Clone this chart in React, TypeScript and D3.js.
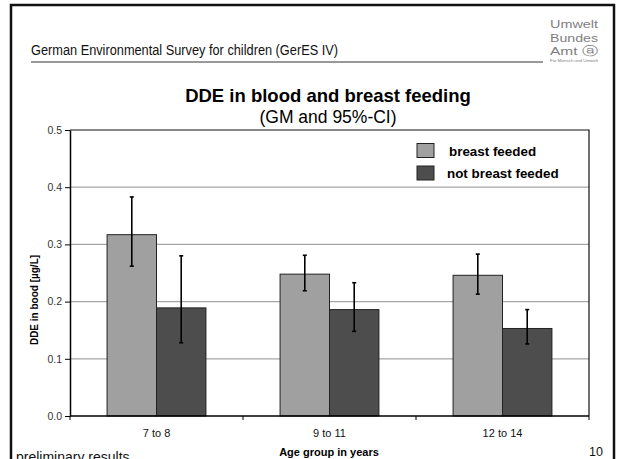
import React, { useEffect, useRef } from 'react';
import * as d3 from 'd3';

const categories = ['7 to 8', '9 to 11', '12 to 14'];
const seriesNames = ['breast feeded', 'not breast feeded'];
const breastFed = [0.317, 0.248, 0.246];
const breastFedLow = [0.262, 0.219, 0.213];
const breastFedHigh = [0.383, 0.281, 0.283];
const notBreastFed = [0.189, 0.186, 0.153];
const notBreastFedLow = [0.128, 0.148, 0.126];
const notBreastFedHigh = [0.28, 0.233, 0.186];
const yTicks = [0, 0.1, 0.2, 0.3, 0.4, 0.5];

const FONT = '"Liberation Sans", Arial, sans-serif';

export default function App() {
  const svgRef = useRef<SVGSVGElement>(null);

  useEffect(() => {
    if (!svgRef.current) return;
    const svg = d3.select(svgRef.current);
    svg.selectAll('*').remove();

    const width = 620;
    const height = 459;
    const plot = { left: 70, right: 589, top: 130, bottom: 416 };

    svg.append('rect').attr('width', width).attr('height', height).attr('fill', '#fff');

    // slide frame
    svg.append('rect')
      .attr('x', 11).attr('y', 5)
      .attr('width', 603).attr('height', 470)
      .attr('fill', 'none').attr('stroke', '#111').attr('stroke-width', 2.5);

    // header
    svg.append('text')
      .attr('x', 31).attr('y', 55)
      .attr('font-family', FONT).attr('font-size', 13.8).attr('fill', '#111')
      .attr('textLength', 307).attr('lengthAdjust', 'spacingAndGlyphs')
      .text('German Environmental Survey for children (GerES IV)');
    svg.append('line')
      .attr('x1', 31).attr('x2', 543).attr('y1', 62).attr('y2', 62)
      .attr('stroke', '#777').attr('stroke-width', 1.5);

    // logo
    const logo = svg.append('g').attr('font-family', FONT).attr('fill', '#808080');
    [['Umwelt', 28], ['Bundes', 41.5], ['Amt  \u24d0', 55]].forEach(([t, y]) => {
      logo.append('text').attr('x', 550).attr('y', y as number).attr('font-size', 11.5)
        .attr('textLength', 48).attr('lengthAdjust', 'spacingAndGlyphs')
        .text(t as string);
    });
    logo.append('text').attr('x', 550).attr('y', 61.5).attr('font-size', 3.5)
      .attr('textLength', 48).attr('lengthAdjust', 'spacingAndGlyphs')
      .text('Für Mensch und Umwelt');

    // titles
    svg.append('text')
      .attr('x', 328).attr('y', 102).attr('text-anchor', 'middle')
      .attr('font-family', FONT).attr('font-size', 18.5).attr('font-weight', 'bold')
      .text('DDE in blood and breast feeding');
    svg.append('text')
      .attr('x', 328).attr('y', 123).attr('text-anchor', 'middle')
      .attr('font-family', FONT).attr('font-size', 17.5)
      .text('(GM and 95%-CI)');

    const y = d3.scaleLinear().domain([0, 0.5]).range([plot.bottom, plot.top]);
    const x0 = d3.scaleBand<string>().domain(categories).range([plot.left, plot.right]);
    const x1 = d3.scaleBand<string>().domain(seriesNames).range([0, x0.bandwidth()])
      .paddingInner(0).paddingOuter(0.75);

    // gridlines
    svg.append('g').selectAll('line')
      .data(yTicks.filter(t => t > 0 && t < 0.5))
      .join('line')
      .attr('x1', plot.left).attr('x2', plot.right)
      .attr('y1', d => y(d)).attr('y2', d => y(d))
      .attr('stroke', '#a6a6a6').attr('stroke-width', 1.2);

    // plot border top + right
    svg.append('path')
      .attr('d', `M${plot.left},${plot.top}H${plot.right}V${plot.bottom}`)
      .attr('fill', 'none').attr('stroke', '#111').attr('stroke-width', 1.2);

    const series = [
      { name: seriesNames[0], vals: breastFed, lo: breastFedLow, hi: breastFedHigh, color: '#a0a0a0' },
      { name: seriesNames[1], vals: notBreastFed, lo: notBreastFedLow, hi: notBreastFedHigh, color: '#4d4d4d' },
    ];

    series.forEach(s => {
      const g = svg.append('g');
      g.selectAll('rect')
        .data(categories)
        .join('rect')
        .attr('x', c => x0(c)! + x1(s.name)!)
        .attr('y', (c, i) => y(s.vals[i]))
        .attr('width', x1.bandwidth())
        .attr('height', (c, i) => y(0) - y(s.vals[i]))
        .attr('fill', s.color)
        .attr('stroke', '#222').attr('stroke-width', 1);
    });

    series.forEach(s => {
      const g = svg.append('g').attr('stroke', '#000').attr('stroke-width', 1.6);
      categories.forEach((c, i) => {
        const cx = x0(c)! + x1(s.name)! + x1.bandwidth() / 2;
        g.append('line').attr('x1', cx).attr('x2', cx).attr('y1', y(s.lo[i])).attr('y2', y(s.hi[i]));
        g.append('line').attr('x1', cx - 2).attr('x2', cx + 2).attr('y1', y(s.lo[i])).attr('y2', y(s.lo[i]));
        g.append('line').attr('x1', cx - 2).attr('x2', cx + 2).attr('y1', y(s.hi[i])).attr('y2', y(s.hi[i]));
      });
    });

    // y axis
    const yAxis = svg.append('g')
      .attr('transform', `translate(${plot.left},0)`)
      .call(d3.axisLeft(y).tickValues(yTicks).tickFormat(d3.format('.1f')).tickSize(5).tickSizeOuter(0));
    yAxis.select('.domain').attr('stroke', '#000').attr('stroke-width', 1.5);
    yAxis.selectAll('.tick line').attr('stroke', '#000');
    yAxis.selectAll('.tick text')
      .attr('font-family', FONT).attr('font-size', 10.5).attr('fill', '#333').attr('x', -8);

    // x axis
    const xAxis = svg.append('g').attr('transform', `translate(0,${plot.bottom})`);
    xAxis.append('line').attr('x1', plot.left).attr('x2', plot.right)
      .attr('stroke', '#000').attr('stroke-width', 1.5);
    xAxis.selectAll('line.tk')
      .data([...categories.map(c => x0(c)!), plot.right])
      .join('line').attr('class', 'tk')
      .attr('x1', d => d).attr('x2', d => d).attr('y1', 0).attr('y2', 4)
      .attr('stroke', '#000');
    xAxis.selectAll('text')
      .data(categories)
      .join('text')
      .attr('x', c => x0(c)! + x0.bandwidth() / 2)
      .attr('y', 21)
      .attr('text-anchor', 'middle')
      .attr('font-family', FONT).attr('font-size', 11).attr('fill', '#111')
      .text(c => c);

    svg.append('text')
      .attr('x', 329).attr('y', 456).attr('text-anchor', 'middle')
      .attr('font-family', FONT).attr('font-size', 11).attr('font-weight', 'bold')
      .text('Age group in years');

    svg.append('text')
      .attr('transform', 'translate(38,300) rotate(-90)')
      .attr('text-anchor', 'middle')
      .attr('font-family', FONT).attr('font-size', 10).attr('font-weight', 'bold')
      .text('DDE in bood  [µg/L]');

    // legend
    const legend = svg.append('g');
    series.forEach((s, i) => {
      legend.append('rect')
        .attr('x', 417).attr('y', 143.5 + i * 22.5)
        .attr('width', 17).attr('height', 14)
        .attr('fill', s.color).attr('stroke', '#222');
      legend.append('text')
        .attr('x', i === 0 ? 449 : 447).attr('y', 156 + i * 22)
        .attr('font-family', FONT).attr('font-size', 13.4).attr('font-weight', 'bold')
        .text(s.name);
    });

    // footer
    svg.append('text')
      .attr('x', 16).attr('y', 462)
      .attr('font-family', FONT).attr('font-size', 14).attr('fill', '#111')
      .text('preliminary results');
    svg.append('text')
      .attr('x', 603).attr('y', 456).attr('text-anchor', 'end')
      .attr('font-family', FONT).attr('font-size', 12.5).attr('fill', '#111')
      .text('10');
  }, []);

  return (
    <svg
      ref={svgRef}
      width={620}
      height={459}
      style={{ position: 'absolute', left: 0, top: 0, display: 'block' }}
    />
  );
}
